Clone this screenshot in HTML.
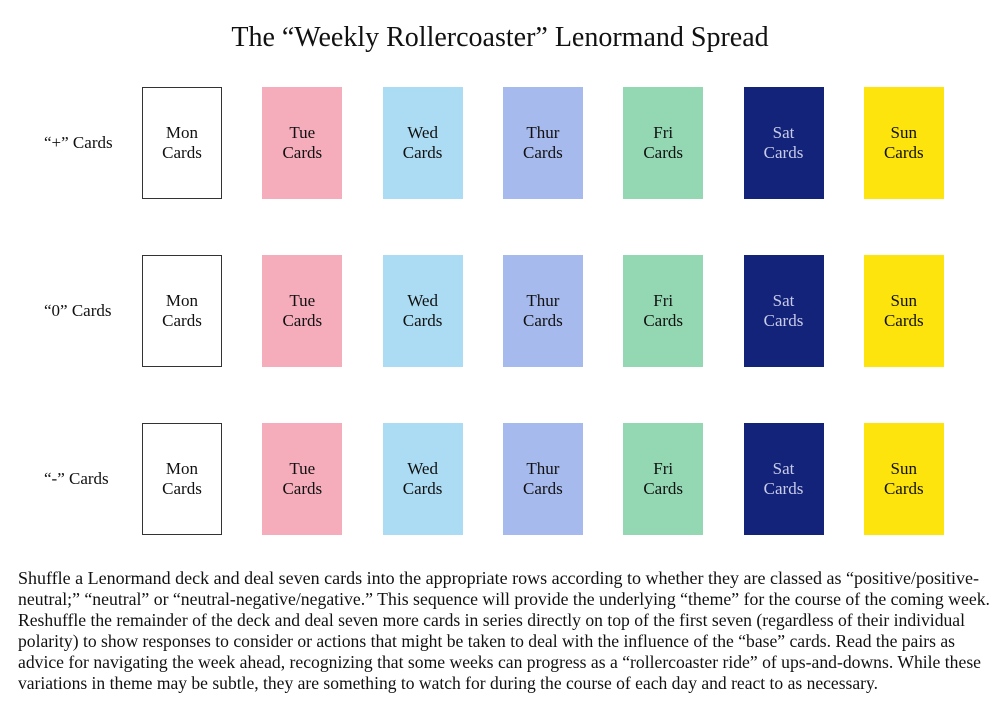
<!DOCTYPE html>
<html><head><meta charset="utf-8"><style>
body{margin:0;width:1000px;height:719px;background:#fff;font-family:"Liberation Serif",serif;position:relative;overflow:hidden;color:#111}
.t{position:absolute;left:0;width:1000px;top:22px;text-align:center;font-size:28px}
.card{position:absolute;width:80px;height:112px;display:flex;align-items:center;justify-content:center;text-align:center;font-size:17px;line-height:20px;box-sizing:border-box}
.lab{position:absolute;left:44px;font-size:17px}
.p{position:absolute;left:18px;top:568px;font-size:17.5px;line-height:21px}
.p span{display:block;white-space:nowrap;transform-origin:0 50%;width:max-content}
</style></head><body>
<div class="t">The “Weekly Rollercoaster” Lenormand Spread</div>
<div id="g"></div>
<div class="p">
<span data-w="961">Shuffle a Lenormand deck and deal seven cards into the appropriate rows according to whether they are classed as “positive/positive-</span>
<span data-w="972">neutral;” “neutral” or “neutral-negative/negative.” This sequence will provide the underlying “theme” for the course of the coming week.</span>
<span data-w="947">Reshuffle the remainder of the deck and deal seven more cards in series directly on top of the first seven (regardless of their individual</span>
<span data-w="937">polarity) to show responses to consider or actions that might be taken to deal with the influence of the “base” cards. Read the pairs as</span>
<span data-w="963">advice for navigating the week ahead, recognizing that some weeks can progress as a “rollercoaster ride” of ups-and-downs. While these</span>
<span data-w="860">variations in theme may be subtle, they are something to watch for during the course of each day and react to as necessary.</span>
</div>
<script>
const rows=["“+” Cards","“0” Cards","“-” Cards"];
const days=["Mon","Tue","Wed","Thur","Fri","Sat","Sun"];
const colors=["#fff","#f5adbb","#acdcf3","#a7baee","#93d8b3","#14237a","#fde40c"];
const g=document.getElementById('g');
rows.forEach((r,i)=>{
  const y=87+i*168;
  const l=document.createElement('div');l.className='lab';l.style.top=(y+46)+'px';l.textContent=r;
  
  
  g.appendChild(l);
  days.forEach((d,j)=>{
    const c=document.createElement('div');c.className='card';
    c.style.left=(142+j*120.3)+'px';c.style.top=y+'px';c.style.background=colors[j];
    if(j==0)c.style.border='1.5px solid #333';
    if(j==5)c.style.color='#c8cce8';
    c.innerHTML=d+'<br>Cards';
    
    
    g.appendChild(c);
  });
});
document.querySelectorAll('.p span').forEach(s=>{
  const w=s.getBoundingClientRect().width;
  s.style.transform='scaleX('+(+s.dataset.w/w)+')';
});
</script>
</body></html>
